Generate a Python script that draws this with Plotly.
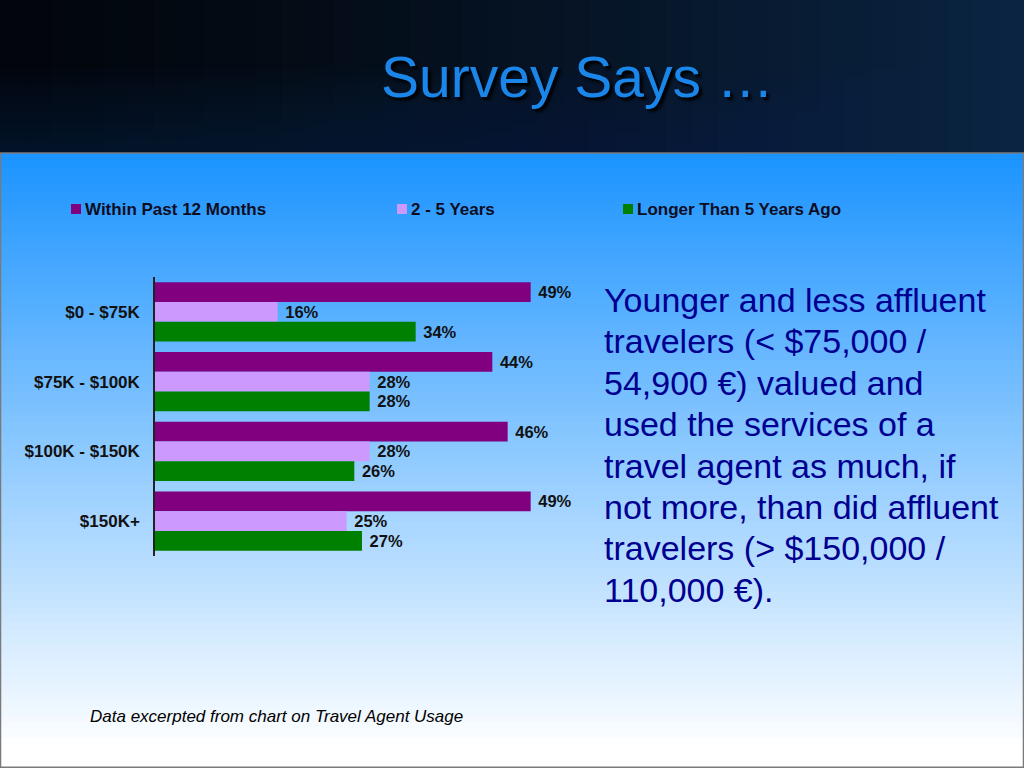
import plotly.graph_objects as go

# chart data
categories = ["$0 - $75K", "$75K - $100K", "$100K - $150K", "$150K+"]
within_12_months = [49, 44, 46, 49]
two_to_five_years = [16, 28, 28, 25]
longer_than_5 = [34, 28, 26, 27]

series_names = ["Within Past 12 Months", "2 - 5 Years", "Longer Than 5 Years Ago"]
series_colors = ["#800080", "#cc99ff", "#008000"]

note_lines = [
    "Younger and less affluent",
    "travelers (< $75,000 /",
    "54,900 €) valued and",
    "used the services of a",
    "travel agent as much, if",
    "not more, than did affluent",
    "travelers (> $150,000 /",
    "110,000 €).",
]

W, H = 1024, 768
HEADER = 153  # header height in px

fig = go.Figure()

for name, vals, col in zip(series_names,
                           [within_12_months, two_to_five_years, longer_than_5],
                           series_colors):
    fig.add_trace(go.Bar(
        y=categories, x=vals, name=name, orientation="h",
        marker=dict(color=col, line=dict(width=0)),
        texttemplate=" %{x}%", textposition="outside",
        textfont=dict(family="Liberation Sans", size=16.5, color="#111111", weight="bold"),
        cliponaxis=False, showlegend=False,
    ))


def py(px):
    # pixel row from top -> paper y
    return 1 - px / H


shapes = []

# body gradient, bright blue to white
steps = 80
top_c = (28, 148, 255)
bot_c = (255, 255, 255)
end_px = 745
for i in range(steps):
    y0 = HEADER + (H - HEADER) * i / steps
    y1 = HEADER + (H - HEADER) * (i + 1) / steps
    t = min(1.0, (y0 - HEADER) / (end_px - HEADER))
    c = tuple(int(round(a + (b - a) * t)) for a, b in zip(top_c, bot_c))
    shapes.append(dict(type="rect", xref="paper", yref="paper", layer="below",
                       x0=0, x1=1, y0=py(y1) - 0.001, y1=py(y0),
                       fillcolor="rgb(%d,%d,%d)" % c, line=dict(width=0)))

# header gradient, near black on the left to dark navy on the right
hsteps = 40
left_c = (2, 6, 12)
right_c = (10, 36, 66)
for i in range(hsteps):
    t = i / (hsteps - 1)
    c = tuple(int(round(a + (b - a) * t ** 1.3)) for a, b in zip(left_c, right_c))
    shapes.append(dict(type="rect", xref="paper", yref="paper", layer="below",
                       x0=i / hsteps, x1=(i + 1) / hsteps + 0.002,
                       y0=py(HEADER), y1=1,
                       fillcolor="rgb(%d,%d,%d)" % c, line=dict(width=0)))
# soft lift toward the bottom of the header
for i in range(12):
    y0 = HEADER - 7 * (i + 1)
    shapes.append(dict(type="rect", xref="paper", yref="paper", layer="below",
                       x0=0, x1=1, y0=py(HEADER), y1=py(y0),
                       fillcolor="rgba(14,40,70,0.05)", line=dict(width=0)))

# slide frame
shapes.append(dict(type="rect", xref="paper", yref="paper", x0=0.0005, x1=0.9995,
                   y0=0.001, y1=py(HEADER), line=dict(color="#7a7a7a", width=1.5)))

annotations = [
    dict(text="Survey Says …", x=577 / W, y=py(77), xref="paper", yref="paper",
         xanchor="center", yanchor="middle", showarrow=False,
         font=dict(family="Liberation Sans", size=57, color="#1a86ea",
                   shadow="3px 3px 3px #000000")),
    dict(text="Data excerpted from chart on Travel Agent Usage", x=88 / W, y=py(716),
         xref="paper", yref="paper", xanchor="left", yanchor="middle", showarrow=False,
         font=dict(family="Liberation Sans", size=17, color="#000000", style="italic")),
]

# side note, one line per annotation to keep the slide's line spacing
for k, line in enumerate(note_lines):
    annotations.append(dict(
        text=line, x=602 / W, y=py(300 + 41.4 * k), xref="paper", yref="paper",
        xanchor="left", yanchor="middle", align="left", showarrow=False,
        font=dict(family="Liberation Sans", size=34, color="#000090")))

# legend row: coloured square + bold name
legend_x = [71, 397, 623]
for name, col, lx in zip(series_names, series_colors, legend_x):
    shapes.append(dict(type="rect", xref="paper", yref="paper",
                       x0=lx / W, x1=(lx + 10) / W, y0=py(214), y1=py(204),
                       fillcolor=col, line=dict(width=0)))
    annotations.append(dict(
        text=name, x=(lx + 12) / W, y=py(209), xref="paper", yref="paper",
        xanchor="left", yanchor="middle", showarrow=False,
        font=dict(family="Liberation Sans", size=17, color="#0d0d22", weight="bold")))

fig.update_layout(
    width=W, height=H,
    margin=dict(l=0, r=0, t=0, b=0),
    paper_bgcolor="#ffffff", plot_bgcolor="rgba(0,0,0,0)",
    barmode="group", bargap=0.15, bargroupgap=0,
    shapes=shapes, annotations=annotations,
    xaxis=dict(domain=[155 / W, 615 / W], range=[0, 60], visible=False, automargin=False),
    yaxis=dict(domain=[py(556), py(277)], autorange="reversed", automargin=False,
               showline=True, linecolor="#222222", linewidth=1.5, showgrid=False,
               zeroline=False, ticks="", ticklabelstandoff=10,
               tickfont=dict(family="Liberation Sans", size=17, color="#111111", weight="bold")),
    font=dict(family="Liberation Sans"),
)

fig.write_html("out.html", config={"displayModeBar": False},
               post_script="document.body.style.margin='0';")
